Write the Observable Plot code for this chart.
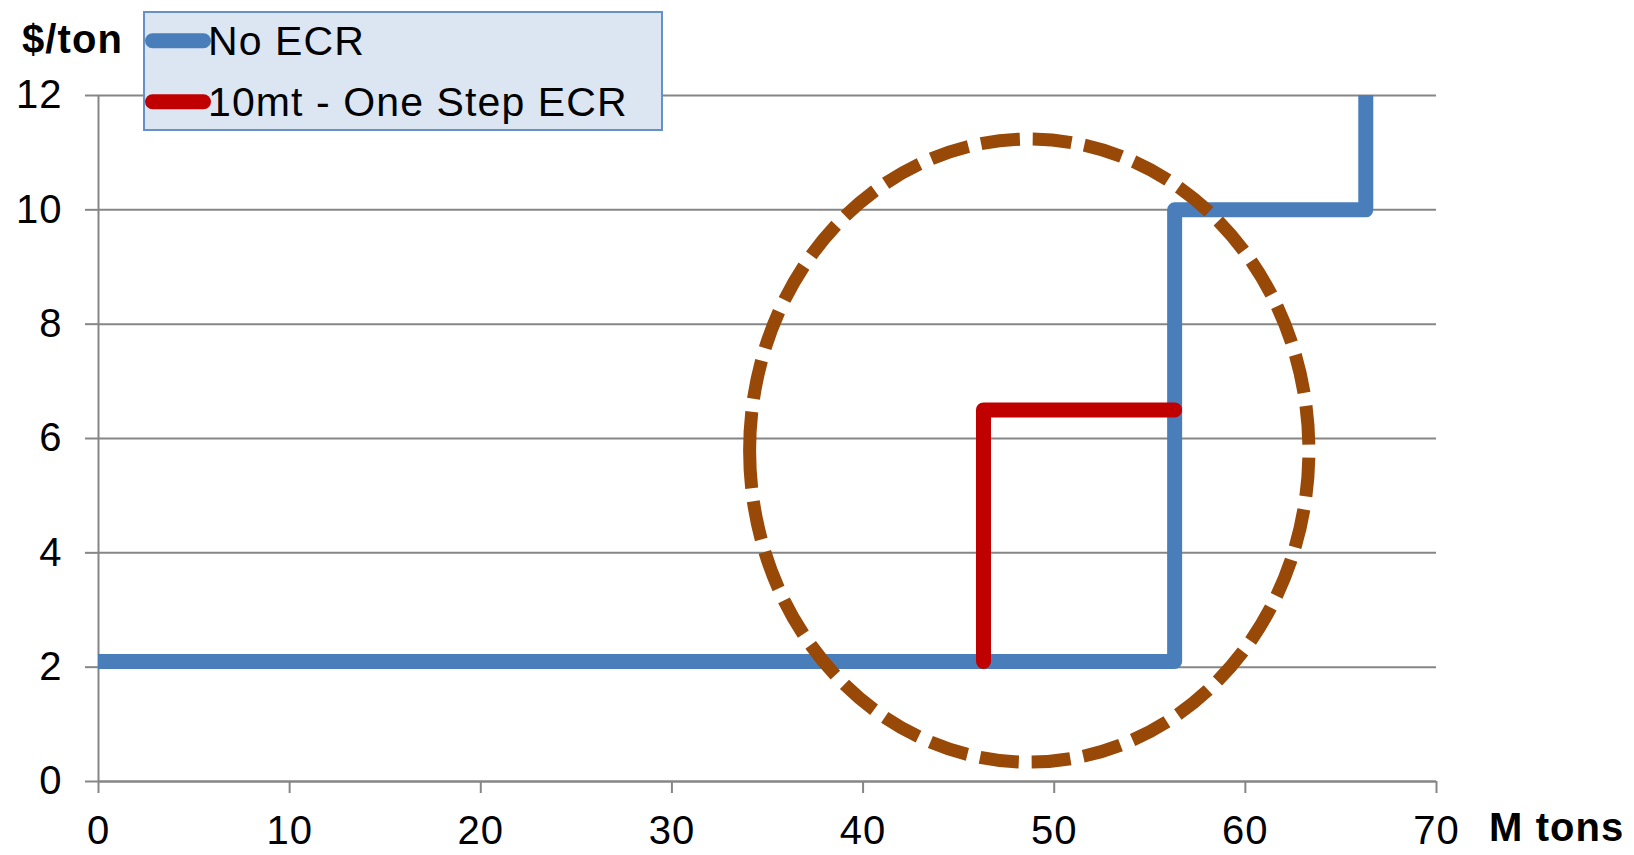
<!DOCTYPE html>
<html>
<head>
<meta charset="utf-8">
<script src="https://cdn.jsdelivr.net/npm/d3@7"></script>
<script src="https://cdn.jsdelivr.net/npm/@observablehq/plot@0.6"></script>
<style>
  html, body { margin: 0; padding: 0; background: white; }
  #wrap { position: relative; width: 1634px; height: 855px; }
  #wrap svg { display: block; }
</style>
</head>
<body>
<div id="wrap"></div>
<script>
// ---- data ----
const xTicks = [0, 10, 20, 30, 40, 50, 60, 70];
const yTicks = [0, 2, 4, 6, 8, 10, 12];
const seriesNames = ["No ECR", "10mt - One Step ECR"];
const seriesColors = ["#4a7ebb", "#c00000"];
const noEcrX = [0, 56.3, 56.3, 66.3, 66.3];
const noEcrY = [2.1, 2.1, 10, 10, 12];
const oneStepX = [46.3, 46.3, 56.3];
const oneStepY = [2.1, 6.5, 6.5];
const ellipseCenter = [48.72, 5.78];   // [x, y] in data units
const ellipseRadii = [14.63, 5.45];    // [rx, ry] in data units
const xLabel = "M tons";
const yLabel = "$/ton";

const noEcr = noEcrX.map((x, i) => ({x, y: noEcrY[i]}));
const oneStep = oneStepX.map((x, i) => ({x, y: oneStepY[i]}));

const FONT = "'Liberation Sans', Arial, sans-serif";
const GRAY = "#868686";

const chart = Plot.plot({
  width: 1634,
  height: 855,
  marginLeft: 98,
  marginRight: 198,
  marginTop: 95,
  marginBottom: 74,
  x: {domain: [0, 70]},
  y: {domain: [0, 12]},
  style: {fontFamily: FONT, fontSize: "40px", color: "black", background: "white", overflow: "visible", letterSpacing: "1px"},
  marks: [
    Plot.gridY(yTicks, {stroke: GRAY, strokeOpacity: 1, strokeWidth: 2}),
    Plot.ruleX([0], {stroke: GRAY, strokeWidth: 2}),
    Plot.ruleY([0], {stroke: GRAY, strokeWidth: 2}),
    Plot.axisY(yTicks, {tickSize: 13, tickPadding: 23, stroke: GRAY, strokeWidth: 2, fill: "black", label: null, tickFormat: d => String(d)}),
    Plot.axisX(xTicks, {tickSize: 12, tickPadding: 22, stroke: GRAY, strokeWidth: 2, fill: "black", label: null, tickFormat: d => String(d)}),
    Plot.line(noEcr, {x: "x", y: "y", stroke: seriesColors[0], strokeWidth: 15, strokeLinejoin: "round", strokeLinecap: "round", clip: true}),
    Plot.line(oneStep, {x: "x", y: "y", stroke: seriesColors[1], strokeWidth: 15, strokeLinejoin: "round", strokeLinecap: "round"})
  ]
});

// dashed ellipse positioned through the chart's scales
const sx = chart.scale("x"), sy = chart.scale("y");
const cx = sx.apply(ellipseCenter[0]);
const cy = sy.apply(ellipseCenter[1]);
const rx = sx.apply(ellipseCenter[0] + ellipseRadii[0]) - cx;
const ry = cy - sy.apply(ellipseCenter[1] + ellipseRadii[1]);
d3.select(chart).append("path")
  .attr("d", `M${cx - rx},${cy} A${rx},${ry} 0 0 1 ${cx + rx},${cy} A${rx},${ry} 0 0 1 ${cx - rx},${cy}`)
  .attr("fill", "none")
  .attr("stroke", "#984807")
  .attr("stroke-width", 13)
  .attr("stroke-dasharray", "39 13");

const wrap = document.getElementById("wrap");
wrap.appendChild(chart);

// overlay: legend and axis titles
const ov = d3.create("svg")
  .attr("width", 1634).attr("height", 855)
  .style("position", "absolute").style("left", "0px").style("top", "0px")
  .style("pointer-events", "none")
  .style("font-family", FONT)
  .style("letter-spacing", "1.1px");

ov.append("rect")
  .attr("x", 144).attr("y", 12).attr("width", 518).attr("height", 118)
  .attr("fill", "#dce6f2").attr("stroke", "#6690c8").attr("stroke-width", 2);

const legendRows = [40.7, 101.7];
seriesNames.forEach((name, i) => {
  ov.append("line")
    .attr("x1", 152.5).attr("x2", 203.5)
    .attr("y1", legendRows[i]).attr("y2", legendRows[i])
    .attr("stroke", seriesColors[i]).attr("stroke-width", 15).attr("stroke-linecap", "round");
  ov.append("text")
    .attr("x", 208).attr("y", legendRows[i] + 14)
    .attr("font-size", 41).attr("fill", "black")
    .text(name);
});

ov.append("text").attr("x", 22).attr("y", 53)
  .attr("font-size", 40).attr("font-weight", "bold").attr("fill", "black").text(yLabel);
ov.append("text").attr("x", 1489).attr("y", 841)
  .attr("font-size", 40).attr("font-weight", "bold").attr("fill", "black").text(xLabel);

wrap.appendChild(ov.node());
</script>
</body>
</html>
